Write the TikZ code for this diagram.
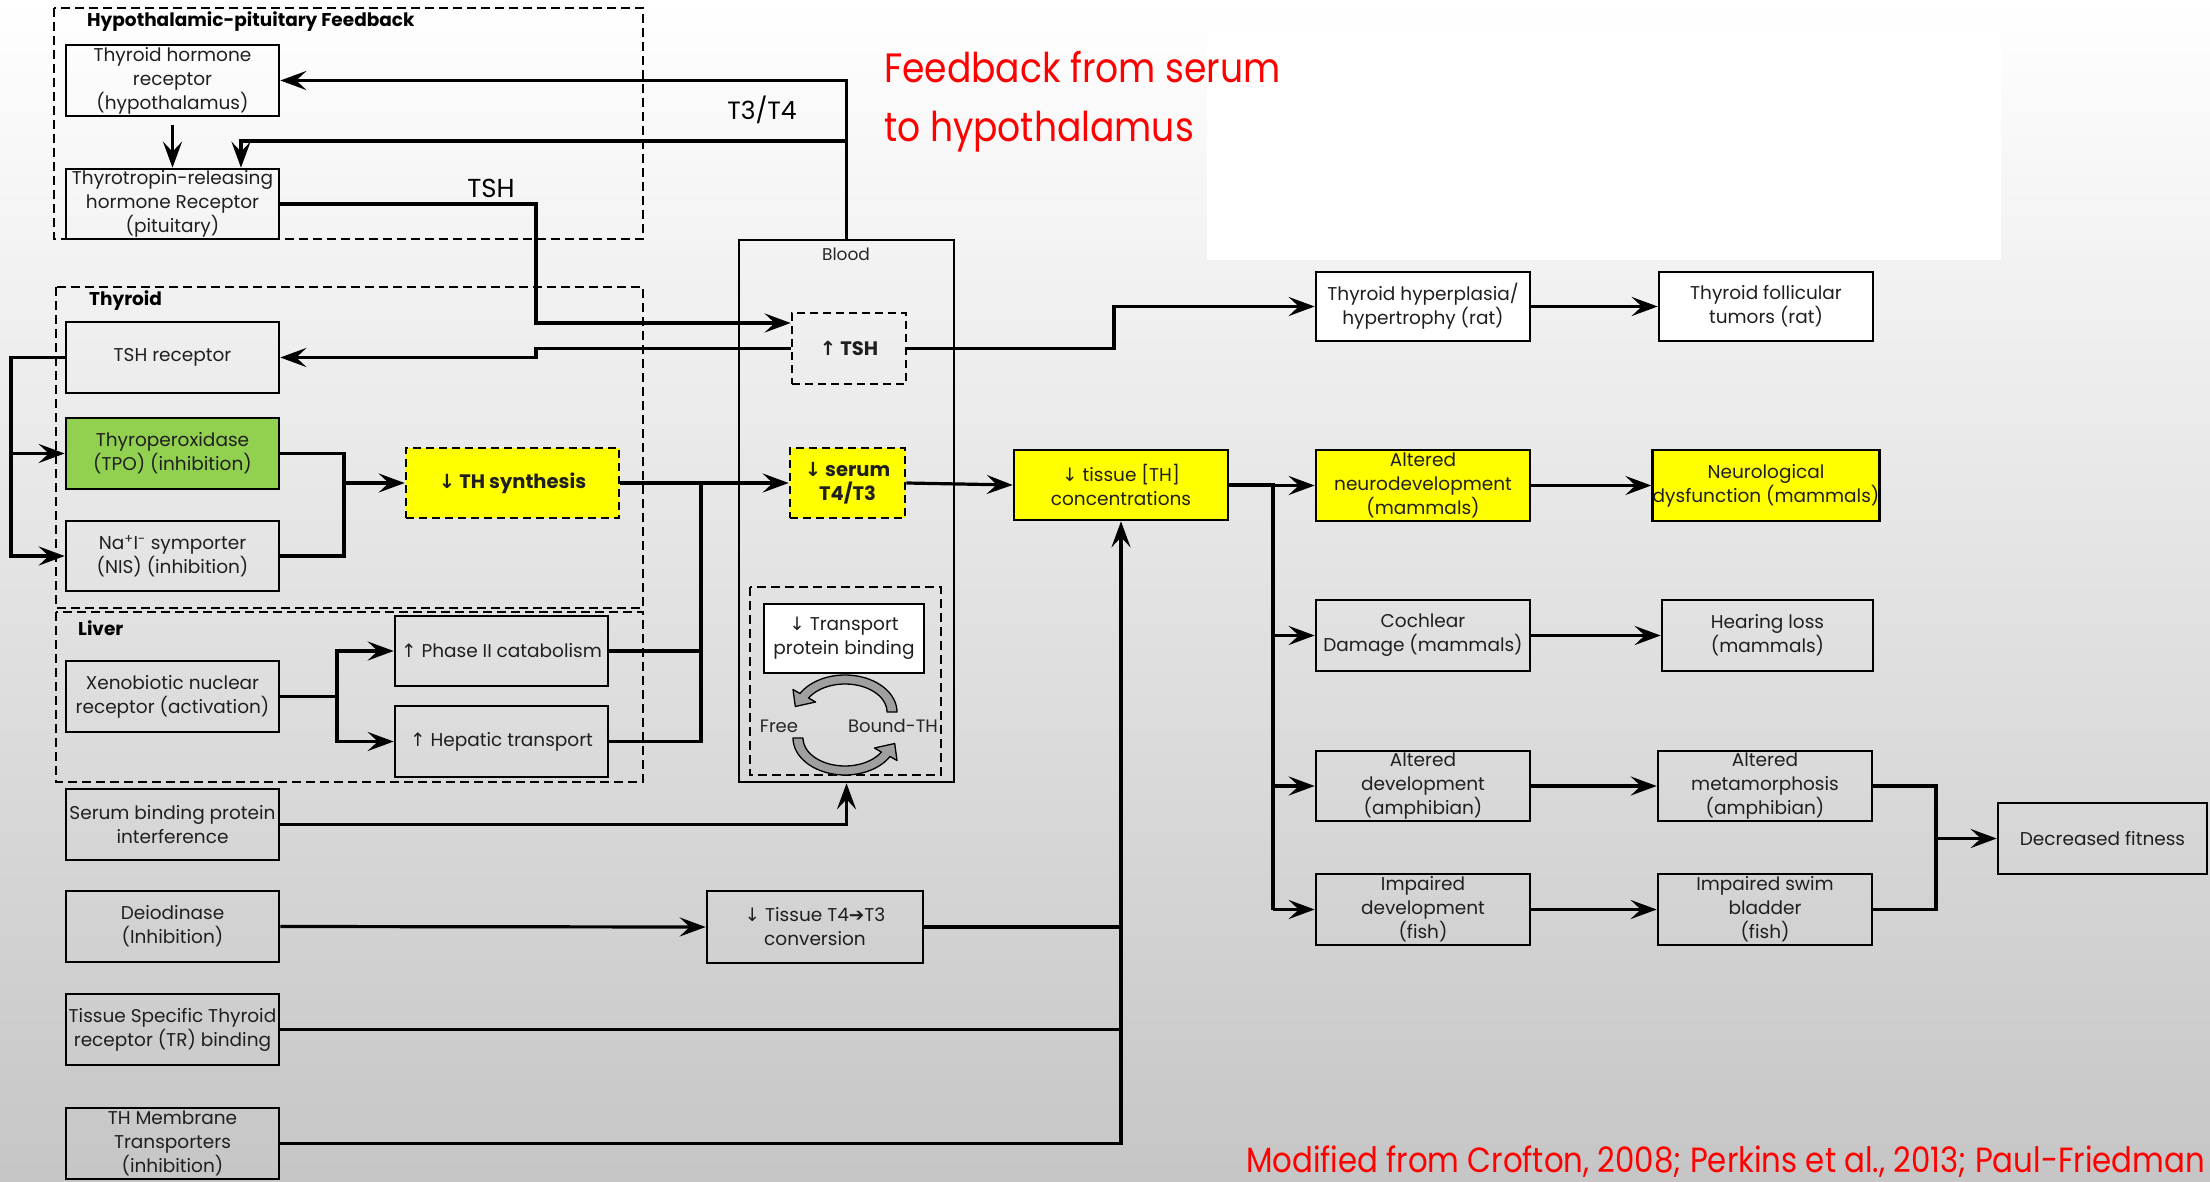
\documentclass[tikz,border=0pt]{standalone}
\usepackage{fontspec}
\setmainfont{Poppins}
\newfontfamily\symfont{DejaVu Sans}
\newfontfamily\redfont[FakeStretch=0.88]{Poppins}
\usetikzlibrary{arrows.meta,calc}
\newcommand{\arrdn}{{\symfont ↓}}
\newcommand{\arrup}{{\symfont ↑}}
\newcommand{\arrrt}{{\symfont ➔}}
\definecolor{tgreen}{HTML}{92D050}
\definecolor{tyellow}{HTML}{FFFF00}
\begin{document}
\begin{tikzpicture}[x=1pt,y=-1pt,
  box/.style={draw=black, line width=2.6pt, minimum width=213pt, minimum height=71pt, align=center, inner sep=0pt, font=\fontsize{18.5}{24}\selectfont, text=black!88},
  ybox/.style={box, fill=tyellow},
  dbox/.style={box, dashed, dash pattern=on 8pt off 5pt},
  cont/.style={draw=black, line width=2.2pt, dash pattern=on 9pt off 5pt},
  ctitle/.style={anchor=west, font=\bfseries\fontsize{18.5}{21}\selectfont, inner sep=0pt},
  conn/.style={draw=black, line width=3.2pt, line join=miter},
  arrowed/.style={conn, -{Stealth[length=26pt,width=19pt,inset=10pt]}},
  flab/.style={font=\fontsize{25}{28}\selectfont, inner sep=0pt}
]
\useasboundingbox (0,0) rectangle (2210,1182);
\shade[top color=white, bottom color=gray!45] (0,0) rectangle (2210,1182);
\fill[white] (1207,32) rectangle (2001,260);

% containers
\draw[cont] (54,8) rectangle (643,239);
\node[ctitle] (hpT) at (87,22) {Hypothalamic-pituitary Feedback};
\draw[cont] (56,287) rectangle (643,608);
\node[ctitle] (thyT) at (89,301) {Thyroid};
\draw[cont] (56,612) rectangle (643,782);
\node[ctitle] (livT) at (78,628) {Liver};

% left column
\node[box] (thr) at (172.5,80.5) {Thyroid hormone\\receptor\\(hypothalamus)};
\node[box, minimum height=70pt] (trh) at (172.5,204) {Thyrotropin-releasing\\hormone Receptor\\(pituitary)};
\node[box] (tshr) at (172.5,357.5) {TSH receptor};
\node[box, fill=tgreen] (tpo) at (172.5,453.5) {Thyroperoxidase\\(TPO) (inhibition)};
\node[box, minimum height=70pt] (nis) at (172.5,556) {Na\textsuperscript{+}I\textsuperscript{-} symporter\\(NIS) (inhibition)};
\node[box] (xeno) at (172.5,696.5) {Xenobiotic nuclear\\receptor (activation)};
\node[box] (sbp) at (172.5,824.5) {Serum binding protein\\interference};
\node[box] (dei) at (172.5,926.5) {Deiodinase\\(Inhibition)};
\node[box] (tsr) at (172.5,1029.5) {Tissue Specific Thyroid\\receptor (TR) binding};
\node[box] (thm) at (172.5,1143.5) {TH Membrane\\Transporters\\(inhibition)};

% thyroid / liver
\node[ybox, dashed, dash pattern=on 8pt off 5pt, minimum height=70pt, font=\bfseries\fontsize{19.5}{24}\selectfont] (ths) at (512.5,483) {\arrdn{} TH synthesis};
\node[box, minimum height=70pt] (p2) at (501.5,651) {\arrup{} Phase II catabolism};
\node[box] (hep) at (501.5,741.5) {\arrup{} Hepatic transport};
\node[box, minimum width=216pt, minimum height=72pt] (t4t3) at (815,927) {\arrdn{} Tissue T4{\bfseries\arrrt}T3\\conversion};

% blood
\node[draw=black, line width=2.6pt, minimum width=215pt, minimum height=542pt, inner sep=0pt] (blood) at (846.5,511) {};
\node[font=\fontsize{17}{20}\selectfont, text=black!85] (bloodT) at (846,254) {Blood};
\node[dbox, minimum width=114pt, font=\bfseries\fontsize{19.5}{24}\selectfont] (utsh) at (849,348.5) {\arrup{} TSH};
\node[dbox, fill=tyellow, minimum width=115pt, minimum height=70pt, font=\bfseries\fontsize{19.5}{24}\selectfont] (serum) at (847.5,483) {\arrdn{} serum\\T4/T3};
\draw[cont] (750,587) rectangle (941,775);
\node[box, fill=white, minimum width=160pt, minimum height=69pt] (tpb) at (844,638.5) {\arrdn{} Transport\\protein binding};
\node[font=\fontsize{18}{20}\selectfont, text=black!85, inner sep=0pt] (free) at (779,726) {Free};
\node[font=\fontsize{18}{20}\selectfont, text=black!85, inner sep=0pt] (bound) at (893,726) {Bound-TH};
% curved fat arrows
\filldraw[fill=gray!75, draw=black, line width=1.3pt, line join=round]
  plot[domain=0:-150, samples=30, smooth] ({845+52*cos(\x)},{712+37*sin(\x)})
  -- (793,689.5) -- (795.3,706.5) -- (815.6,702)
  -- plot[domain=-150:0, samples=30, smooth] ({845+42*cos(\x)},{712+28*sin(\x)}) -- cycle;
\filldraw[fill=gray!75, draw=black, line width=1.3pt, line join=round]
  plot[domain=180:30, samples=30, smooth] ({845+52*cos(\x)},{738+37*sin(\x)})
  -- (897,760.5) -- (894.7,743.5) -- (874.4,748)
  -- plot[domain=30:180, samples=30, smooth] ({845+42*cos(\x)},{738+28*sin(\x)}) -- cycle;

\node[ybox, minimum width=214pt, minimum height=70pt] (tis) at (1121,485) {\arrdn{} tissue [TH]\\concentrations};

% right side
\node[box, fill=white, minimum width=214pt, minimum height=69pt] (hyp) at (1423,306.5) {Thyroid hyperplasia/\\hypertrophy (rat)};
\node[box, fill=white, minimum width=214pt, minimum height=69pt] (fol) at (1766,306.5) {Thyroid follicular\\tumors (rat)};
\node[ybox, minimum width=214pt] (neu) at (1423,485.5) {Altered\\neurodevelopment\\(mammals)};
\node[ybox, minimum width=214pt] (ndys) at (1766,485.5) {Neurological\\dysfunction (mammals)};
\node[box, minimum width=214pt] (coc) at (1423,635.5) {Cochlear\\Damage (mammals)};
\node[box, minimum width=211pt] (hear) at (1767.5,635.5) {Hearing loss\\(mammals)};
\node[box, minimum width=214pt, minimum height=70pt] (adev) at (1423,786) {Altered\\development\\(amphibian)};
\node[box, minimum width=214pt, minimum height=70pt] (meta) at (1765,786) {Altered\\metamorphosis\\(amphibian)};
\node[box, minimum width=214pt] (idev) at (1423,909.5) {Impaired\\development\\(fish)};
\node[box, minimum width=214pt] (swim) at (1765,909.5) {Impaired swim\\bladder\\(fish)};
\node[box, minimum width=209pt] (fit) at (2102.5,838.5) {Decreased fitness};

% labels
\node[flab] (t3t4) at (762,110) {T3/T4};
\node[flab, font=\fontsize{26}{30}\selectfont] (tshlab) at (491,188) {TSH};
\node[anchor=west, text=red, align=left, inner sep=0pt, font=\redfont\fontsize{41}{59}\selectfont] (fbred) at (884,102) {Feedback from serum\\to hypothalamus};
\node[anchor=east, text=red, inner sep=0pt, font=\redfont\fontsize{35}{40}\selectfont] (cite) at (2205,1162) {Modified from Crofton, 2008; Perkins et al., 2013; Paul-Friedman};

% connectors: feedback
\draw[arrowed] (blood.north) |- (thr.east);
\coordinate (fb2) at (241,141);
\draw[arrowed] (blood.north |- fb2) -| (trh.north -| fb2);
\draw[arrowed, shorten <=8pt] (thr.south) -- (trh.north);
\coordinate (a1) at (536,323);
\draw[arrowed] (trh.east) -| (a1) -- (utsh.west |- a1);
\draw[arrowed] (utsh.west) -| (536,357.5) -- (tshr.east);
% thyroid
\draw[arrowed] (tshr.west) -- (11,357.5) |- (nis.west);
\draw[arrowed] (11,453.5) -- (tpo.west);
\draw[conn] (tpo.east) -| (344,556) -- (nis.east);
\draw[arrowed] (344,483) -- (ths.west);
\draw[arrowed] (ths.east) -- (serum.west);
% liver
\draw[arrowed] (xeno.east) -- (337,696.5) |- (p2.west);
\draw[arrowed] (337,696.5) |- (hep.west);
\draw[conn] (hep.east) -| (701,483);
\draw[conn] (p2.east) -- (701,651);
% serum to tissue
\draw[arrowed] (serum.east) -- (tis.west);
\draw[arrowed] (sbp.east) -| (blood.south);
\draw[arrowed] (dei.east) -- (t4t3.west);
\draw[arrowed] (thm.east) -| (tis.south);
\draw[conn] (tsr.east) -- (tis.south |- tsr.east);
\draw[conn] (t4t3.east) -- (tis.south |- t4t3.east);
% TSH to hyperplasia
\draw[arrowed] (utsh.east) -- (1114,348.5) |- (hyp.west);
\draw[arrowed] (hyp.east) -- (fol.west);
% tissue branches
\draw[conn] (tis.east) -| (1273,909.5);
\draw[arrowed] (1273,485.5) -- (neu.west);
\draw[arrowed] (1273,635.5) -- (coc.west);
\draw[arrowed] (1273,786) -- (adev.west);
\draw[arrowed] (1273,909.5) -- (idev.west);
\draw[arrowed] (neu.east) -- (ndys.west);
\draw[arrowed] (coc.east) -- (hear.west);
\draw[arrowed] (adev.east) -- (meta.west);
\draw[arrowed] (idev.east) -- (swim.west);
\draw[conn] (meta.east) -| (1936,909.5) -- (swim.east);
\draw[arrowed] (1936,838.5) -- (fit.west);
\end{tikzpicture}
\end{document}
